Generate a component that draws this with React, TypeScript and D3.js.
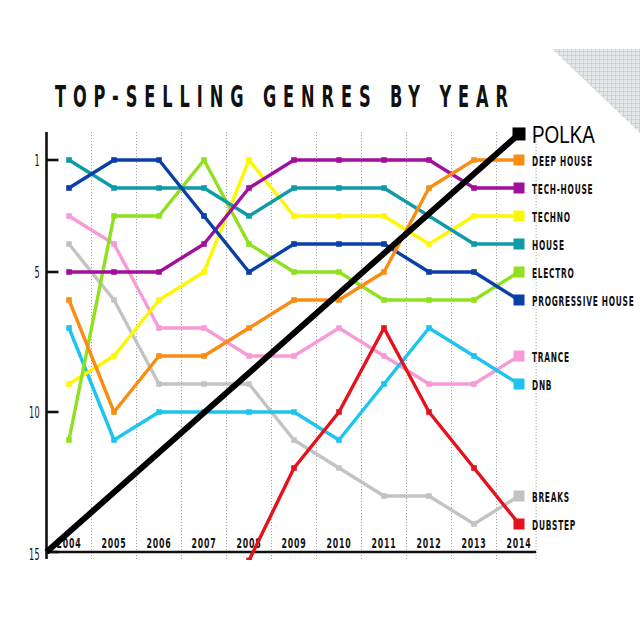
import React from "react";
import * as d3 from "d3";

const years = [2004, 2005, 2006, 2007, 2008, 2009, 2010, 2011, 2012, 2013, 2014];
const deepHouse = [6, 10, 8, 8, 7, 6, 6, 5, 2, 1, 1];
const techHouse = [5, 5, 5, 4, 2, 1, 1, 1, 1, 2, 2];
const techno = [9, 8, 6, 5, 1, 3, 3, 3, 4, 3, 3];
const house = [1, 2, 2, 2, 3, 2, 2, 2, 3, 4, 4];
const electro = [11, 3, 3, 1, 4, 5, 5, 6, 6, 6, 5];
const progressiveHouse = [2, 1, 1, 3, 5, 4, 4, 4, 5, 5, 6];
const trance = [3, 4, 7, 7, 8, 8, 7, 8, 9, 9, 8];
const dnb = [7, 11, 10, 10, 10, 10, 11, 9, 7, 8, 9];
const breaks = [4, 6, 9, 9, 9, 11, 12, 13, 13, 14, 13];
const dubstepYears = [2008, 2009, 2010, 2011, 2012, 2013, 2014];
const dubstep = [15.3, 12, 10, 7, 10, 12, 14];
const polkaYears = [2003.5, 2014];
const polka = [15, 0.07];
const yTicks = [1, 5, 10, 15];
const title = "TOP-SELLING GENRES BY YEAR";

type Series = { name: string; color: string; xs: number[]; ys: number[] };

const series: Series[] = [
  { name: "BREAKS", color: "#c3c3c5", xs: years, ys: breaks },
  { name: "TRANCE", color: "#f79bd8", xs: years, ys: trance },
  { name: "DNB", color: "#1cc4ef", xs: years, ys: dnb },
  { name: "DUBSTEP", color: "#e5121c", xs: dubstepYears, ys: dubstep },
  { name: "TECHNO", color: "#fdf700", xs: years, ys: techno },
  { name: "ELECTRO", color: "#8fe11e", xs: years, ys: electro },
  { name: "HOUSE", color: "#0f9aa8", xs: years, ys: house },
  { name: "TECH-HOUSE", color: "#a0109c", xs: years, ys: techHouse },
  { name: "PROGRESSIVE HOUSE", color: "#0b3fa8", xs: years, ys: progressiveHouse },
  { name: "DEEP HOUSE", color: "#f98d13", xs: years, ys: deepHouse },
];

const x = d3.scaleLinear().domain([2004, 2014]).range([69, 519]);
const y = d3.scaleLinear().domain([1, 15]).range([160, 552]);
const xMin = 2003.5;
const xMax = 2014.38;
const gridYears = d3.range(2004.5, 2014, 1).concat([xMax]);

const condensed = "'DejaVu Sans Condensed', 'DejaVu Sans', sans-serif";

function CText({ tx, ty, sx = 0.64, size = 14, anchor = "start", children, ls = 1, weight = "bold", family = condensed, fill = "#111" }: any) {
  return (
    <g transform={`translate(${tx},${ty}) scale(${sx},1)`}>
      <text x={0} y={0} fontFamily={family} fontWeight={weight} fontSize={size} textAnchor={anchor} letterSpacing={ls} fill={fill}>
        {children}
      </text>
    </g>
  );
}

export default function App() {
  const line = d3
    .line<[number, number]>()
    .x((d) => x(d[0]))
    .y((d) => y(d[1]));
  const yTop = y(0);
  const yBottom = 559;
  return (
    <div style={{ position: "absolute", left: 0, top: 0 }}>
      <svg width={640} height={640} viewBox="0 0 640 640" style={{ display: "block", background: "#fff" }}>
        <defs>
          <pattern id="gridpat" width={4} height={4} patternUnits="userSpaceOnUse">
            <rect width={4} height={4} fill="#e6e7eb" />
            <path d="M3.5 0 V4 M0 3.5 H4" stroke="#c2c4ca" strokeWidth={0.6} />
          </pattern>
          <clipPath id="plotclip">
            <rect x={0} y={0} width={640} height={yBottom + 1} />
          </clipPath>
        </defs>
        <rect width={640} height={640} fill="#fff" />
        <polygon points="552,49 640,49 640,133" fill="url(#gridpat)" />

        <g transform={`translate(55,107) scale(0.6,1)`}>
          <text x={0} y={0} fontFamily={condensed} fontWeight="bold" fontSize={30} textLength={453 / 0.6} lengthAdjust="spacing" fill="#111">
            {title}
          </text>
        </g>

        {gridYears.map((g) => (
          <line key={g} x1={x(g)} x2={x(g)} y1={yTop} y2={yBottom} stroke="#9a9a9a" strokeWidth={0.9} strokeDasharray="1.2,1.8" />
        ))}

        <line x1={x(xMin)} x2={x(xMin)} y1={yTop} y2={yBottom} stroke="#111" strokeWidth={2.6} />
        <line x1={x(xMin)} x2={x(xMax)} y1={y(15)} y2={y(15)} stroke="#111" strokeWidth={2.6} />
        {yTicks.map((t) => (
          <g key={t}>
            <line x1={x(xMin)} x2={x(xMin) + 12} y1={y(t)} y2={y(t)} stroke="#111" strokeWidth={2.6} />
            <CText tx={40} ty={y(t) + (t === 15 ? 8 : 5.5)} sx={0.6} size={15} anchor="end" ls={0.5} weight="normal">
              {t}
            </CText>
          </g>
        ))}

        {years.map((yr) => (
          <CText key={yr} tx={x(yr)} ty={548} sx={0.6} size={14.5} anchor="middle" ls={1.4}>
            {yr}
          </CText>
        ))}

        <g clipPath="url(#plotclip)">
          {series.map((s) => {
            const pts = s.xs.map((xv, i) => [xv, s.ys[i]] as [number, number]);
            return (
              <g key={s.name}>
                <path d={line(pts) || ""} fill="none" stroke={s.color} strokeWidth={3.4} strokeLinejoin="round" />
                {pts.slice(0, -1).map((p, i) => (
                  <rect key={i} x={x(p[0]) - 2.8} y={y(p[1]) - 2.8} width={5.6} height={5.6} fill={s.color} />
                ))}
              </g>
            );
          })}
        </g>

        {series.map((s) => {
          const lx = s.xs[s.xs.length - 1];
          const ly = s.ys[s.ys.length - 1];
          return (
            <g key={s.name}>
              <rect x={x(lx) - 5.5} y={y(ly) - 5.5} width={11} height={11} fill={s.color} />
              <CText tx={532} ty={y(ly) + 5.5} sx={0.57} size={14.5} ls={1.3}>
                {s.name}
              </CText>
            </g>
          );
        })}

        <path
          d={line(polkaYears.map((xv, i) => [xv, polka[i]] as [number, number])) || ""}
          fill="none"
          stroke="#000"
          strokeWidth={6}
        />
        <rect x={x(2014) - 6.5} y={y(polka[1]) - 6.5} width={13} height={13} fill="#000" />
        <CText tx={532} ty={143} sx={0.82} size={23} ls={0} weight="normal" family="'Liberation Sans', Arial, sans-serif" fill="#000">
          POLKA
        </CText>
      </svg>
    </div>
  );
}
